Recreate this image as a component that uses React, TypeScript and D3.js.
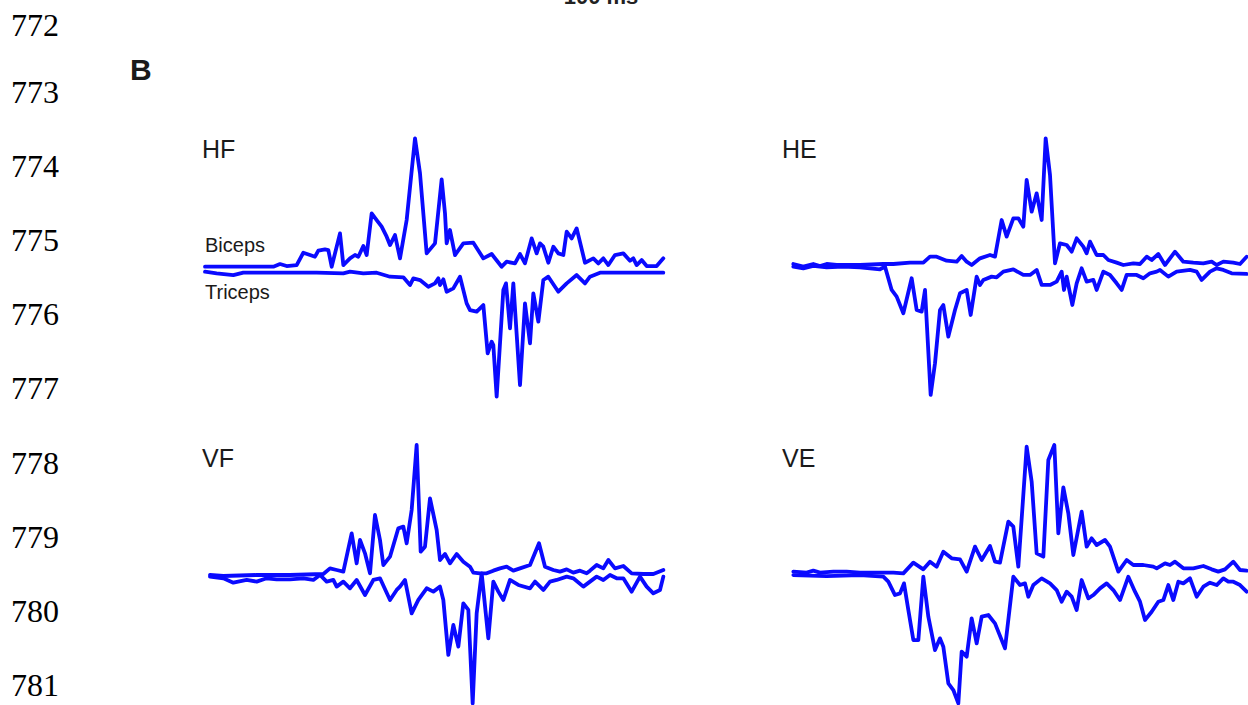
import React from "react";
import * as d3 from "d3";

// Line numbers of the manuscript page
const lineNumbers = ["772", "773", "774", "775", "776", "777", "778", "779", "780", "781"];
const lineBaselines = [36, 103, 177, 251, 325, 399, 474, 548, 622, 696];

const panelNames = ["HF", "HE", "VF", "VE"];

// [time (samples), amplitude (a.u.)]
const hfBiceps: [number, number][] = [
  [45,0],[250,0],[270,8],[290,2],[320,5],[340,42],[360,35],[375,30],[385,48],[405,52],[415,50],[425,0],[450,100],[460,5],[480,25],[495,35],[505,30],[520,62],[530,35],[545,160],[560,140],[575,120],[590,90],[600,65],[615,95],[630,25],[650,140],[675,385],[690,280],[710,40],[735,70],[755,262],[765,160],[770,70],[780,110],[795,35],[820,70],[850,72],[880,25],[905,38],[935,0],[950,15],[975,10],[990,38],[1005,10],[1025,85],[1040,40],[1050,70],[1060,60],[1075,12],[1090,60],[1105,40],[1120,35],[1130,105],[1145,85],[1160,115],[1185,12],[1210,25],[1225,10],[1240,25],[1255,5],[1275,35],[1300,40],[1320,18],[1330,25],[1340,5],[1355,20],[1370,2],[1400,2],[1420,25]
];
const hfTriceps: [number, number][] = [
  [45,3],[80,-2],[130,-7],[160,0],[250,0],[380,0],[460,-2],[480,3],[520,-2],[560,0],[600,-12],[640,-14],[660,-37],[670,-17],[690,-22],[715,-42],[735,-32],[745,-17],[750,-37],[760,-20],[770,-57],[790,-47],[810,-12],[830,-92],[840,-112],[860,-117],[880,-97],[893,-242],[905,-207],[910,-217],[920,-372],[940,-52],[948,-32],[960,-167],[970,-32],[990,-337],[1005,-92],[1020,-212],[1030,-62],[1045,-147],[1060,-22],[1075,-12],[1105,-57],[1130,-32],[1160,-7],[1185,-32],[1200,-12],[1230,0],[1300,0],[1420,0]
];
const heBiceps: [number, number][] = [
  [100,0],[130,-8],[160,0],[180,-6],[200,0],[230,-3],[300,-3],[370,0],[400,0],[450,4],[490,4],[510,22],[530,22],[560,10],[590,7],[605,24],[620,7],[635,-3],[660,17],[690,27],[705,22],[725,132],[740,82],[760,137],[775,137],[790,112],[800,252],[815,157],[830,212],[845,132],[857,377],[870,267],[885,2],[900,62],[920,57],[935,37],[950,77],[970,52],[980,32],[990,67],[1010,27],[1030,27],[1045,12],[1070,4],[1090,-3],[1120,2],[1140,0],[1160,22],[1175,12],[1195,30],[1215,-3],[1245,37],[1270,7],[1300,4],[1330,2],[1355,7],[1370,-3],[1390,7],[1420,4],[1440,0],[1460,22]
];
const heTriceps: [number, number][] = [
  [100,2],[130,-3],[160,4],[200,0],[250,2],[300,0],[360,-6],[375,2],[395,-68],[410,-88],[430,-138],[455,-33],[470,-128],[485,-133],[495,-68],[512,-383],[525,-288],[540,-128],[550,-113],[565,-208],[585,-128],[600,-78],[620,-68],[632,-143],[650,-28],[660,-53],[670,-38],[695,-28],[710,-30],[730,-13],[760,-6],[790,-23],[810,-23],[830,-8],[845,-53],[870,-53],[890,-43],[905,-13],[912,-68],[920,-28],[937,-113],[950,-48],[965,-3],[980,-43],[1000,-38],[1010,-68],[1030,-13],[1050,-23],[1070,-48],[1085,-68],[1100,-23],[1130,-23],[1150,-33],[1170,-18],[1190,-13],[1200,-8],[1225,-28],[1250,-13],[1290,-8],[1310,-13],[1325,-38],[1350,-13],[1370,-3],[1390,-8],[1415,-18],[1460,-20]
];
const vfBiceps: [number, number][] = [
  [60,0],[100,-3],[200,0],[300,0],[400,3],[420,20],[440,15],[460,10],[485,125],[500,35],[510,105],[525,65],[540,5],[555,180],[570,105],[580,30],[600,55],[625,140],[640,145],[650,95],[665,195],[680,390],[692,70],[705,85],[720,230],[740,135],[750,45],[765,63],[780,35],[800,63],[820,40],[840,25],[850,7],[870,5],[890,5],[910,13],[930,20],[950,25],[970,13],[990,20],[1020,30],[1047,95],[1065,25],[1090,15],[1110,10],[1130,17],[1150,7],[1170,13],[1190,5],[1200,13],[1220,30],[1240,20],[1255,45],[1275,20],[1300,27],[1325,5],[1360,3],[1390,3],[1420,15]
];
const vfTriceps: [number, number][] = [
  [60,5],[100,0],[130,-13],[170,-5],[200,-10],[230,0],[260,-3],[300,-3],[340,0],[370,-5],[390,10],[410,-10],[430,-5],[440,-25],[460,-10],[480,-30],[500,-5],[525,-50],[550,-5],[570,0],[600,-65],[620,-35],[630,-25],[645,-5],[665,-105],[685,-65],[710,-30],[730,-40],[750,-25],[760,-65],[775,-230],[790,-140],[805,-205],[820,-75],[835,-95],[848,-375],[860,-105],[875,15],[895,-180],[910,-10],[925,-40],[940,-65],[960,-5],[985,-20],[1020,-30],[1035,-10],[1060,-35],[1080,-10],[1100,-5],[1130,5],[1150,0],[1180,-25],[1200,-10],[1220,5],[1240,-5],[1260,10],[1280,0],[1300,0],[1325,-40],[1350,5],[1370,-25],[1390,-45],[1410,-35],[1420,5]
];
const veBiceps: [number, number][] = [
  [100,1],[140,-2],[160,4],[180,-2],[220,1],[260,1],[300,-2],[400,-2],[430,-4],[460,28],[490,8],[510,31],[530,16],[550,61],[575,41],[600,38],[620,1],[645,76],[665,36],[690,78],[705,31],[720,28],[745,151],[760,136],[775,16],[800,376],[815,271],[830,56],[850,46],[865,336],[883,381],[895,116],[910,254],[925,176],[940,51],[965,181],[980,76],[995,101],[1010,81],[1035,96],[1050,76],[1075,1],[1100,36],[1120,21],[1150,21],[1180,16],[1190,11],[1215,26],[1230,21],[1245,31],[1270,11],[1300,11],[1330,18],[1355,8],[1375,1],[1395,8],[1420,31],[1440,6],[1460,4]
];
const veTriceps: [number, number][] = [
  [100,2],[200,-1],[300,2],[370,-3],[385,-18],[405,-58],[420,-53],[432,-23],[445,-103],[460,-193],[475,-193],[490,-3],[505,-123],[525,-223],[540,-188],[550,-213],[565,-323],[580,-343],[595,-383],[605,-228],[620,-243],[635,-128],[650,-203],[665,-123],[685,-118],[705,-143],[735,-218],[760,-3],[780,-28],[795,-23],[805,-63],[820,-28],[845,-8],[870,-23],[890,-43],[905,-78],[920,-48],[935,-63],[950,-103],[965,-13],[985,-68],[1000,-58],[1020,-38],[1040,-23],[1060,-43],[1080,-73],[1105,-3],[1125,-48],[1140,-78],[1155,-133],[1175,-108],[1195,-78],[1210,-73],[1225,-28],[1240,-73],[1255,-18],[1270,-23],[1290,-8],[1310,-63],[1330,-33],[1350,-21],[1370,-28],[1390,-8],[1405,-18],[1420,-18],[1440,-28],[1460,-48]
];

const panelSeries = [
  [hfBiceps, hfTriceps],
  [heBiceps, heTriceps],
  [vfBiceps, vfTriceps],
  [veBiceps, veTriceps],
];

// layout
const panelLayout = [
  { x0: 190, bic: 266.7, tri: 272.7, lx: 202, ly: 158 },
  { x0: 760, bic: 264, tri: 267.3, lx: 782, ly: 158 },
  { x0: 190, bic: 575, tri: 578.3, lx: 202, ly: 467 },
  { x0: 760, bic: 572, tri: 575.7, lx: 782, ly: 467 },
];

const BLUE = "#0a0aff";

export default function App() {
  return (
    <svg
      width={1248}
      height={705}
      style={{ position: "fixed", left: 0, top: 0, background: "#fff" }}
      viewBox="0 0 1248 705"
    >
      <rect width={1248} height={705} fill="#fff" />
      {lineNumbers.map((n, i) => (
        <text
          key={n}
          x={11}
          y={lineBaselines[i]}
          fontFamily="'Liberation Serif', 'Times New Roman', serif"
          fontSize={32}
          fill="#000"
        >
          {n}
        </text>
      ))}
      <text x={601} y={4} textAnchor="middle" fontFamily="'Liberation Sans', Arial, sans-serif" fontSize={22} fontWeight="bold" fill="#222">
        100 ms
      </text>
      <text x={130} y={80} fontFamily="'Liberation Sans', Arial, sans-serif" fontSize={30} fontWeight="bold" fill="#1a1a1a">
        B
      </text>
      {panelLayout.map((p, i) => {
        const x = d3.scaleLinear().domain([0, 1500]).range([p.x0, p.x0 + 500]);
        const bases = [p.bic, p.tri];
        return (
          <g key={panelNames[i]}>
            <text x={p.lx} y={p.ly} fontFamily="'Liberation Sans', Arial, sans-serif" fontSize={25} fill="#1a1a1a">
              {panelNames[i]}
            </text>
            {panelSeries[i].map((series, j) => {
              const y = d3.scaleLinear().domain([0, 300]).range([bases[j], bases[j] - 100]);
              const line = d3
                .line<[number, number]>()
                .x((d) => x(d[0]))
                .y((d) => y(d[1]));
              return (
                <path
                  key={j}
                  d={line(series) || ""}
                  fill="none"
                  stroke={BLUE}
                  strokeWidth={3.8}
                  strokeLinejoin="round"
                  strokeLinecap="round"
                />
              );
            })}
          </g>
        );
      })}
      <text x={205} y={252} fontFamily="'Liberation Sans', Arial, sans-serif" fontSize={20} fill="#1a1a1a">
        Biceps
      </text>
      <text x={205} y={299} fontFamily="'Liberation Sans', Arial, sans-serif" fontSize={20} fill="#1a1a1a">
        Triceps
      </text>
    </svg>
  );
}
